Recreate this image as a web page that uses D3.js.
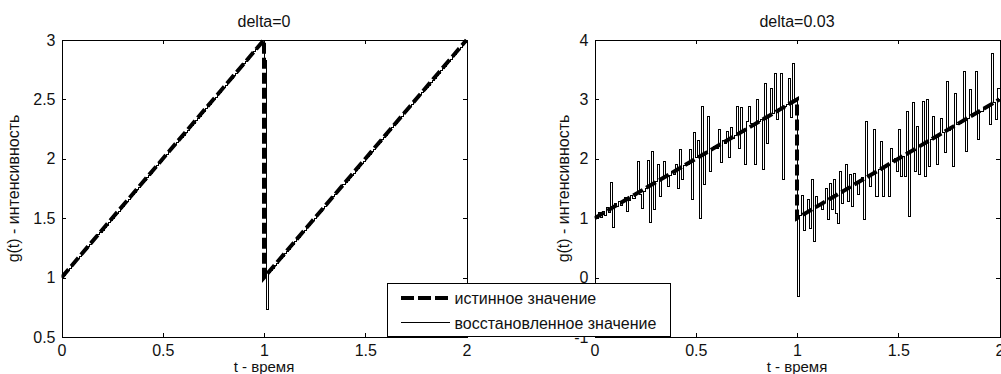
<!DOCTYPE html>
<html>
<head>
<meta charset="utf-8">
<script src="https://cdn.jsdelivr.net/npm/d3@7"></script>
<style>
  body { margin: 0; background: #fff; }
  svg { display: block; font-family: Arial, "Liberation Sans", sans-serif; }
  .tick line, .domain { shape-rendering: crispEdges; }
</style>
</head>
<body>
<div id="chart"></div>
<script>
// x grid step of the reconstruction (stairs)
const dt = 0.01;

// true value g(t): sawtooth 1 -> 3, twice
const trueT = [0, 1, 1, 2];
const trueG = [1, 3, 1, 3];

// reconstructed, delta = 0
const recon0 = [
  1.00,1.02,1.04,1.06,1.08,1.10,1.12,1.14,1.16,1.18,
  1.20,1.22,1.24,1.26,1.28,1.30,1.32,1.34,1.36,1.38,
  1.40,1.42,1.44,1.46,1.48,1.50,1.52,1.54,1.56,1.58,
  1.60,1.62,1.64,1.66,1.68,1.70,1.72,1.74,1.76,1.78,
  1.80,1.82,1.84,1.86,1.88,1.90,1.92,1.94,1.96,1.98,
  2.00,2.02,2.04,2.06,2.08,2.10,2.12,2.14,2.16,2.18,
  2.20,2.22,2.24,2.26,2.28,2.30,2.32,2.34,2.36,2.38,
  2.40,2.42,2.44,2.46,2.48,2.50,2.52,2.54,2.56,2.58,
  2.60,2.62,2.64,2.66,2.68,2.70,2.72,2.74,2.76,2.78,
  2.80,2.82,2.84,2.86,2.88,2.90,2.92,2.94,2.96,2.98,
  2.83,0.73,1.04,1.06,1.08,1.10,1.12,1.14,1.16,1.18,
  1.20,1.22,1.24,1.26,1.28,1.30,1.32,1.34,1.36,1.38,
  1.40,1.42,1.44,1.46,1.48,1.50,1.52,1.54,1.56,1.58,
  1.60,1.62,1.64,1.66,1.68,1.70,1.72,1.74,1.76,1.78,
  1.80,1.82,1.84,1.86,1.88,1.90,1.92,1.94,1.96,1.98,
  2.00,2.02,2.04,2.06,2.08,2.10,2.12,2.14,2.16,2.18,
  2.20,2.22,2.24,2.26,2.28,2.30,2.32,2.34,2.36,2.38,
  2.40,2.42,2.44,2.46,2.48,2.50,2.52,2.54,2.56,2.58,
  2.60,2.62,2.64,2.66,2.68,2.70,2.72,2.74,2.76,2.78,
  2.80,2.82,2.84,2.86,2.88,2.90,2.92,2.94,2.96,2.98
];

// reconstructed, delta = 0.03
const recon03 = [
  1.00,1.03,1.10,1.02,1.12,1.05,1.18,1.10,1.60,0.84,
  1.24,1.20,1.28,1.22,1.30,1.35,1.12,1.30,1.38,1.34,
  1.42,1.95,1.40,1.17,1.45,1.50,1.97,0.93,2.12,1.14,
  1.62,1.90,1.37,1.66,1.95,1.70,1.53,1.72,1.78,1.74,
  1.90,1.50,2.15,1.65,1.88,1.92,1.90,2.15,1.31,2.44,
  2.03,2.30,1.00,2.88,1.56,2.10,2.71,1.79,2.15,2.20,
  2.18,2.49,1.93,2.30,2.26,2.46,2.02,2.52,2.34,2.40,
  2.88,2.18,2.86,2.45,1.90,2.62,2.88,2.60,2.58,1.91,
  2.99,2.62,2.66,1.82,3.27,2.26,2.74,3.19,2.76,3.44,
  2.66,2.84,3.44,1.65,2.88,2.92,3.35,2.70,3.61,3.00,
  -0.31,1.05,1.39,0.80,1.10,1.31,0.83,1.65,0.61,1.37,
  1.20,1.24,1.14,1.26,1.50,0.97,1.59,1.14,1.65,1.08,
  0.91,1.79,1.25,1.46,1.90,1.28,1.73,1.20,1.76,1.58,
  1.40,1.62,1.68,0.97,2.63,1.70,1.53,1.76,2.49,1.37,
  1.82,2.29,1.37,1.86,1.90,1.37,2.18,1.96,2.00,1.79,
  2.49,1.70,2.04,1.70,2.80,1.03,2.12,2.94,1.79,2.55,
  1.73,2.22,2.97,1.70,2.99,1.87,2.32,2.71,2.36,1.90,
  2.42,2.68,2.44,2.10,3.30,2.48,2.52,1.87,3.10,2.58,
  2.60,2.62,3.47,2.13,2.68,3.16,2.72,2.74,3.47,2.32,
  2.80,2.80,2.84,2.86,2.88,2.57,3.78,2.94,2.66,3.19
];

const xTicks = [0, 0.5, 1, 1.5, 2];
const xTickLabels = ["0", "0.5", "1", "1.5", "2"];
const yTicksLeft = [0.5, 1, 1.5, 2, 2.5, 3];
const yTickLabelsLeft = ["0.5", "1", "1.5", "2", "2.5", "3"];
const yTicksRight = [-1, 0, 1, 2, 3, 4];
const yTickLabelsRight = ["-1", "0", "1", "2", "3", "4"];

const titles = ["delta=0", "delta=0.03"];
const xLabel = "t - время";
const yLabel = "g(t) - интенсивность";
const legendLabels = ["истинное значение", "восстановленное значение"];

const width = 1001, height = 374;
const plotTop = 40, plotBottom = 337;
const fontSize = 16;

const svg = d3.select("#chart").append("svg")
  .attr("width", width)
  .attr("height", height);

svg.append("rect").attr("width", width).attr("height", height).attr("fill", "#fff");

function stairsData(values) {
  const pts = values.map((v, i) => ({ t: i * dt, g: v }));
  pts.push({ t: values.length * dt, g: values[values.length - 1] });
  return pts;
}

function drawPanel(opts) {
  const x = d3.scaleLinear().domain([0, 2]).range([opts.left, opts.right]);
  const y = d3.scaleLinear().domain(opts.yDomain).range([plotBottom, plotTop]);
  const g = svg.append("g");

  const clipId = "clip" + opts.id;
  svg.append("clipPath").attr("id", clipId)
    .append("rect")
    .attr("x", opts.left).attr("y", plotTop - 2)
    .attr("width", opts.right - opts.left + 2).attr("height", plotBottom - plotTop + 4);

  // true value, thick dashed
  const trueData = trueT.map((t, i) => ({ t: t, g: trueG[i] }));
  g.append("path")
    .datum(trueData)
    .attr("clip-path", "url(#" + clipId + ")")
    .attr("fill", "none")
    .attr("stroke", "#000")
    .attr("stroke-width", 4)
    .attr("stroke-dasharray", "11,4")
    .attr("d", d3.line().x(d => x(d.t)).y(d => y(d.g)));

  // reconstructed, thin stairs
  g.append("path")
    .datum(stairsData(opts.recon))
    .attr("clip-path", "url(#" + clipId + ")")
    .attr("fill", "none")
    .attr("stroke", "#000")
    .attr("stroke-width", 1)
    .attr("shape-rendering", "crispEdges")
    .attr("d", d3.line().curve(d3.curveStepAfter).x(d => x(d.t)).y(d => y(d.g)));

  // axes, ticks pointing inwards on all four sides
  g.append("g")
    .attr("transform", `translate(0,${plotBottom})`)
    .call(d3.axisBottom(x).tickValues(xTicks)
      .tickFormat((d, i) => xTickLabels[i])
      .tickSizeInner(-4).tickSizeOuter(0).tickPadding(8));
  g.append("g")
    .attr("transform", `translate(0,${plotTop})`)
    .call(d3.axisTop(x).tickValues(xTicks).tickFormat("")
      .tickSizeInner(-4).tickSizeOuter(0));
  g.append("g")
    .attr("transform", `translate(${opts.left},0)`)
    .call(d3.axisLeft(y).tickValues(opts.yTicks)
      .tickFormat((d, i) => opts.yLabels[i])
      .tickSizeInner(-4).tickSizeOuter(0).tickPadding(6));
  g.append("g")
    .attr("transform", `translate(${opts.right},0)`)
    .call(d3.axisRight(y).tickValues(opts.yTicks).tickFormat("")
      .tickSizeInner(-4).tickSizeOuter(0));

  g.selectAll(".tick text")
    .attr("fill", "#111")
    .style("font-size", fontSize + "px")
    .style("font-family", "Arial, 'Liberation Sans', sans-serif");
  g.selectAll(".domain").attr("stroke", "#000");
  g.selectAll(".tick line").attr("stroke", "#000");

  const cx = (opts.left + opts.right) / 2;
  g.append("text")
    .attr("x", cx).attr("y", 27)
    .attr("text-anchor", "middle")
    .style("font-size", fontSize + "px")
    .attr("fill", "#111")
    .text(opts.title);
  g.append("text")
    .attr("x", cx).attr("y", 372)
    .attr("text-anchor", "middle")
    .style("font-size", "15px")
    .attr("fill", "#111")
    .text(xLabel);
  g.append("text")
    .attr("transform", `translate(${opts.yLabelX},${(plotTop + plotBottom) / 2}) rotate(-90)`)
    .attr("text-anchor", "middle")
    .style("font-size", fontSize + "px")
    .attr("fill", "#111")
    .text(yLabel);
}

drawPanel({
  id: 0, left: 61.5, right: 466.5, yDomain: [0.5, 3],
  yTicks: yTicksLeft, yLabels: yTickLabelsLeft,
  recon: recon0, title: titles[0], yLabelX: 19
});
drawPanel({
  id: 1, left: 594.5, right: 999.5, yDomain: [-1, 4],
  yTicks: yTicksRight, yLabels: yTickLabelsRight,
  recon: recon03, title: titles[1], yLabelX: 569
});

// legend, drawn over both panels
const legend = svg.append("g").attr("transform", "translate(387.5,283.5)");
legend.append("rect")
  .attr("width", 283).attr("height", 53)
  .attr("fill", "#fff").attr("stroke", "#000").attr("stroke-width", 1)
  .attr("shape-rendering", "crispEdges");
const legendDash = ["13,4", null];
const legendWidth = [4, 1];
legendLabels.forEach((label, i) => {
  const ly = 14 + i * 25;
  legend.append("line")
    .attr("x1", 13).attr("x2", 62).attr("y1", ly).attr("y2", ly)
    .attr("stroke", "#000")
    .attr("stroke-width", legendWidth[i])
    .attr("stroke-dasharray", legendDash[i])
    .attr("shape-rendering", "crispEdges");
  legend.append("text")
    .attr("x", 67).attr("y", ly + 6)
    .style("font-size", fontSize + "px")
    .attr("fill", "#111")
    .text(label);
});
</script>
</body>
</html>
